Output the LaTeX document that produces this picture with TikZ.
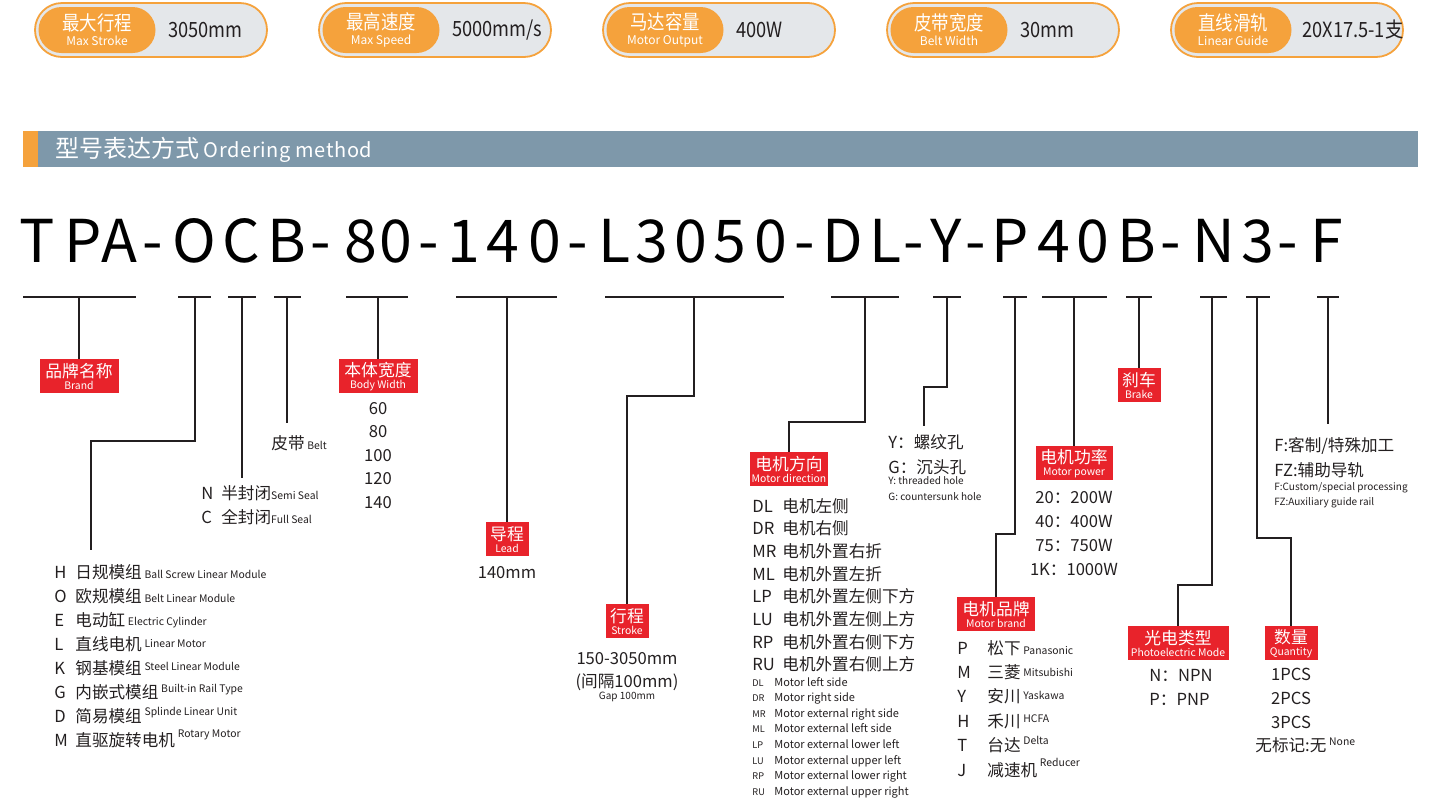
\documentclass[tikz,border=0pt]{standalone}
\usepackage{fontspec}
\setmainfont{Noto Sans CJK SC}
\usepackage{xcolor}
\usepackage{graphicx}
\usepackage{tikz}
\usetikzlibrary{positioning,shapes.misc,calc}
\definecolor{pillorange}{HTML}{F5A23C}
\definecolor{pillgray}{HTML}{E4E7EA}
\definecolor{barslate}{HTML}{7E98AA}
\definecolor{tagred}{HTML}{E8232B}
\definecolor{inkgray}{HTML}{231F20}
\newcommand{\tg}[2]{{\fontsize{8.4pt}{9pt}\selectfont #1}\\[-3pt]{\fontsize{5.2pt}{6pt}\selectfont #2}}
\newcommand{\entxt}[2][0pt]{\raisebox{#1}{\fontsize{5.2pt}{6pt}\selectfont #2}}
\newcommand{\narrow}[1]{\scalebox{0.87}[1]{#1}}

\begin{document}
\begin{tikzpicture}[x=0.5pt,y=-0.5pt,
  uline/.style={draw=inkgray,line width=1pt},
  stem/.style={draw=inkgray,line width=0.9pt},
  tag/.style={fill=tagred,text=white,inner sep=0pt,minimum height=17pt,align=center,anchor=north,font=\fontsize{8.4pt}{9pt}\selectfont},
  val/.style={text=inkgray,font=\fontsize{8.3pt}{10pt}\selectfont,inner sep=0pt},
  row/.style={val,anchor=base west},
  tiny/.style={text=inkgray,font=\fontsize{5pt}{6pt}\selectfont,inner sep=0pt,anchor=base west},
  code/.style={text=black,font=\fontsize{29.5pt}{30pt}\selectfont,inner sep=0pt,anchor=base},
  pillout/.style={rounded rectangle,draw=pillorange,line width=0.9pt,fill=pillgray,minimum width=116pt,minimum height=27pt,inner sep=0pt},
  pillin/.style={rounded rectangle,fill=pillorange,minimum width=58.5pt,minimum height=23pt,inner sep=0pt,text=white,align=center,font=\fontsize{10pt}{10pt}\selectfont},
  pillval/.style={text=inkgray,font=\fontsize{10.5pt}{11pt}\selectfont,inner sep=0pt,anchor=west}]
  \useasboundingbox (0,0) rectangle (1440,804);
  % 顶部参数
  \node[pillout] (p1) at (151,30) {};
  \node[pillin] (in1) at (97,30) {\narrow{最大行程}\\[-2.5pt]{\fontsize{6pt}{6pt}\selectfont Max Stroke}};
  \node[pillval,right=6pt of in1] (v1) {\narrow{3050mm}};
  \node[pillout] (p2) at (435,30) {};
  \node[pillin] (in2) at (381,30) {\narrow{最高速度}\\[-2.5pt]{\fontsize{6pt}{6pt}\selectfont Max Speed}};
  \node[pillval,right=6pt of in2] (v2) {\narrow{5000mm/s}};
  \node[pillout] (p3) at (719,30) {};
  \node[pillin] (in3) at (665,30) {\narrow{马达容量}\\[-2.5pt]{\fontsize{6pt}{6pt}\selectfont Motor Output}};
  \node[pillval,right=6pt of in3] (v3) {\narrow{400W}};
  \node[pillout] (p4) at (1003,30) {};
  \node[pillin] (in4) at (949,30) {\narrow{皮带宽度}\\[-2.5pt]{\fontsize{6pt}{6pt}\selectfont Belt Width}};
  \node[pillval,right=6pt of in4] (v4) {\narrow{30mm}};
  \node[pillout] (p5) at (1287,30) {};
  \node[pillin] (in5) at (1233,30) {\narrow{直线滑轨}\\[-2.5pt]{\fontsize{6pt}{6pt}\selectfont Linear Guide}};
  \node[pillval,right=5pt of in5] (v5) {\narrow{20X17.5-1支}};
  % 标题栏
  \fill[barslate] (23,131) rectangle (1418,167);
  \fill[pillorange] (23,131) rectangle (38,167);
  \node[anchor=west,text=white,inner sep=0pt] (hd) at (55,150) {{\fontsize{12pt}{12pt}\selectfont 型号表达方式} {\fontsize{10pt}{12pt}\selectfont\addfontfeature{LetterSpace=3}Ordering method}};
  % 型号
  \foreach \ch/\cx [count=\i] in {T/37,P/83,A/119,-/153,O/194,C/241,B/287,-/321,8/361,0/396,-/429,1/464,4/503,0/545,-/578,L/615,3/652,0/691,5/730,0/771,-/805,D/843,L/886,-/914,Y/946,-/976,P/1010,4/1054,0/1093,B/1137,-/1171,N/1214,3/1258,-/1288,F/1327}
    \node[code] (c\i) at (\cx,262) {\ch};
  % 下划线
  \foreach \a/\b/\s/\n in {23/136/79/Brand,178/211/195/Type,228/256/242/Seal,274/301/287/Belt,346/408/378/Width,456/557/507/Lead,605/784/694/Stroke,831/899/865/Dir,933/961/947/Hole,1003/1027/1015/Mbrand,1042/1107/1074/Power,1126/1152/1139/Brake,1200/1227/1212/Photo,1246/1270/1257/Qty,1317/1339/1328/Custom}
  {\draw[uline] (\a,297) -- (\b,297); \coordinate (u\n) at (\s,297);}
  % 标签
  \node[tag,minimum width=39.5pt] (tBrand) at (79,359) {\tg{品牌名称}{Brand}};
  \node[tag,minimum width=39.5pt] (tWidth) at (378,359) {\tg{本体宽度}{Body Width}};
  \node[tag,minimum width=21.5pt] (tLead) at (507,522) {\tg{导程}{Lead}};
  \node[tag,minimum width=21.5pt] (tStroke) at (627,604) {\tg{行程}{Stroke}};
  \node[tag,minimum width=39pt] (tDir) at (789,452) {\tg{电机方向}{Motor direction}};
  \node[tag,minimum width=39pt] (tMbrand) at (996,597) {\tg{电机品牌}{Motor brand}};
  \node[tag,minimum width=38.5pt] (tPower) at (1074,446) {\tg{电机功率}{Motor power}};
  \node[tag,minimum width=21.5pt] (tBrake) at (1139,368) {\tg{刹车}{Brake}};
  \node[tag,minimum width=50.5pt] (tPhoto) at (1178,626) {\tg{光电类型}{Photoelectric Mode}};
  \node[tag,minimum width=26.5pt] (tQty) at (1291,626) {\tg{数量}{Quantity}};
  \coordinate (eType) at (91,550);
  \coordinate (eSeal) at (242,478);
  \coordinate (eBelt) at (287,423);
  \coordinate (eHole) at (924,426);
  \coordinate (eCustom) at (1328,424);
  % 连线
  \draw[stem] (uBrand) -- (tBrand);
  \draw[stem] (uType) -- ++(0,144) -| (eType);
  \draw[stem] (uSeal) -- (eSeal);
  \draw[stem] (uBelt) -- (eBelt);
  \draw[stem] (uWidth) -- (tWidth);
  \draw[stem] (uLead) -- (tLead);
  \draw[stem] (uStroke) -- ++(0,99) -| (tStroke);
  \draw[stem] (uDir) -- ++(0,125) -| (tDir);
  \draw[stem] (uHole) -- ++(0,90) -| (eHole);
  \draw[stem] (uMbrand) -- ++(0,237) -| (tMbrand);
  \draw[stem] (uPower) -- (tPower);
  \draw[stem] (uBrake) -- (tBrake);
  \draw[stem] (uPhoto) -- ++(0,288) -| (tPhoto);
  \draw[stem] (uQty) -- ++(0,241) -| (tQty);
  \draw[stem] (uCustom) -- (eCustom);
  % 品牌类型
  \foreach \k/\c/\e/\r [count=\i] in {H/日规模组/Ball Screw Linear Module/0,O/欧规模组/Belt Linear Module/0,E/电动缸/Electric Cylinder/0.5,L/直线电机/Linear Motor/1.5,K/钢基模组/Steel Linear Module/2,G/内嵌式模组/Built-in Rail Type/3,D/简易模组/Splinde Linear Unit/3.5,M/直驱旋转电机/Rotary Motor/4.5}
    \node[row] (ty\i) at (54,{554+24*\i}) {\makebox[10.5pt][l]{\k}\c\,\entxt[\r pt]{\e}};
  \node[row] (sN) at (201,499) {\makebox[10pt][l]{N}半封闭\entxt{Semi Seal}};
  \node[row] (sC) at (201,523) {\makebox[10pt][l]{C}全封闭\entxt{Full Seal}};
  \node[row] (belt) at (271,449) {皮带\,\entxt{Belt}};
  \foreach \w [count=\i] in {60,80,100,120,140}
    \node[val,anchor=base] (bw\i) at (378,{390.5+23.5*\i}) {\w};
  \node[val,anchor=base] (leadv) at (507,578) {140mm};
  \node[val,anchor=base] (st1) at (627,664) {150-3050mm};
  \node[val,anchor=base] (st2) at (627,687) {(间隔100mm)};
  \node[tiny,anchor=base] (st3) at (627,699) {Gap 100mm};
  % 电机方向
  \foreach \k/\c [count=\i] in {DL/电机左侧,DR/电机右侧,MR/电机外置右折,ML/电机外置左折,LP/电机外置左侧下方,LU/电机外置左侧上方,RP/电机外置右侧下方,RU/电机外置右侧上方}
    \node[row] (md\i) at (752,{489.3+22.7*\i}) {\makebox[15pt][l]{\k}\c};
  \foreach \k/\e [count=\i] in {DL/Motor left side,DR/Motor right side,MR/Motor external right side,ML/Motor external left side,LP/Motor external lower left,LU/Motor external upper left,RP/Motor external lower right,RU/Motor external upper right}
    \node[tiny,font=\fontsize{5.5pt}{6pt}\selectfont] (me\i) at (752,{670.4+15.6*\i}) {\makebox[11pt][l]{\fontsize{4.6pt}{5pt}\selectfont\k}\e};
  % 安装孔
  \node[row] (h1) at (888,448) {Y：螺纹孔};
  \node[row] (h2) at (888,473) {G：沉头孔};
  \node[tiny] (h3) at (888,484) {Y: threaded hole};
  \node[tiny] (h4) at (888,500) {G: countersunk hole};
  % 电机功率
  \foreach \p [count=\i] in {20：200W,40：400W,75：750W,1K：1000W}
    \node[val,anchor=base] (pw\i) at (1074,{479+24*\i}) {\p};
  % 电机品牌
  \foreach \k/\c/\e/\r [count=\i] in {P/松下/Panasonic/0,M/三菱/Mitsubishi/1,Y/安川/Yaskawa/1.5,H/禾川/HCFA/2.5,T/台达/Delta/3.5,J/减速机/Reducer/5}
    \node[row] (mb\i) at (957,{629.6+24.4*\i}) {\makebox[15pt][l]{\k}\c\,\entxt[\r pt]{\e}};
  % 光电 / 数量 / 附加
  \node[row] (ph1) at (1149,681) {N：NPN};
  \node[row] (ph2) at (1149,705) {P：PNP};
  \foreach \q [count=\i] in {1PCS,2PCS,3PCS}
    \node[val,anchor=base] (q\i) at (1291,{656+24*\i}) {\q};
  \node[row] (q4) at (1255,751) {无标记:无\,\entxt[3pt]{None}};
  \node[row] (f1) at (1274,451) {F:客制/特殊加工};
  \node[row] (f2) at (1274,476) {FZ:辅助导轨};
  \node[tiny] (f3) at (1274,490) {F:Custom/special processing};
  \node[tiny] (f4) at (1274,505) {FZ:Auxiliary guide rail};
\end{tikzpicture}
\end{document}
